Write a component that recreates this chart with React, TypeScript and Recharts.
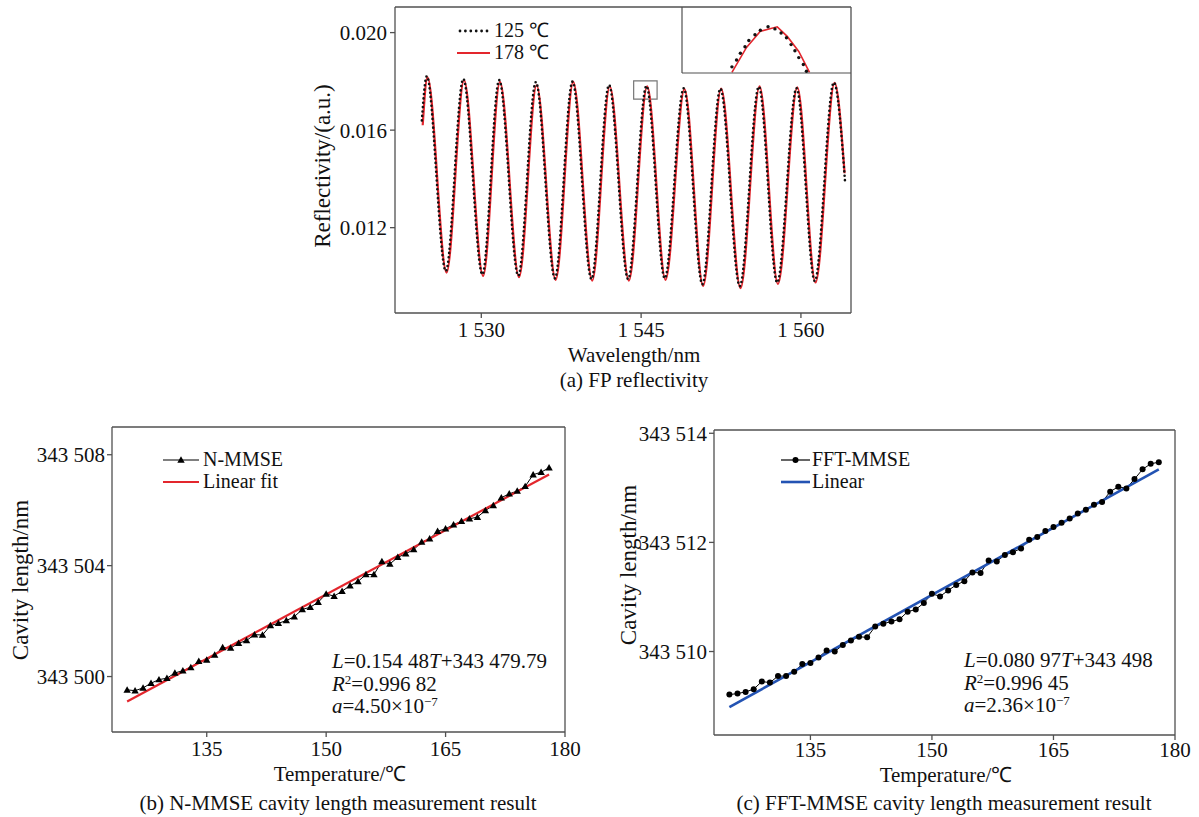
import React from 'react';
import { LineChart, Line, XAxis, YAxis, ReferenceArea } from 'recharts';

const FONT = "'Liberation Serif', 'Times New Roman', serif";
const AXIS = '#505050';
const RED = '#e3262d';
const BLUE = '#2353b3';
const INK = '#111';

// ---------- (a) FP reflectivity ----------
const wl178 = [1524.5, 1524.95, 1526.74, 1528.38, 1530.17, 1531.75, 1533.54, 1535.19, 1536.98, 1538.63, 1540.41, 1542.06, 1543.85, 1545.57, 1547.29, 1549.07, 1550.82, 1552.51, 1554.33, 1556.12, 1557.84, 1559.66, 1561.37, 1563.16, 1564.1];
const refl178 = [0.0162, 0.01816, 0.01016, 0.01805, 0.01002, 0.01798, 0.00997, 0.01784, 0.00986, 0.01798, 0.00983, 0.0178, 0.00983, 0.0178, 0.00986, 0.01768, 0.00961, 0.0177, 0.00952, 0.0178, 0.00969, 0.01775, 0.00975, 0.01794, 0.01423];
const wl125 = [1524.42, 1524.88, 1526.67, 1528.31, 1530.1, 1531.68, 1533.47, 1535.12, 1536.91, 1538.56, 1540.34, 1541.99, 1543.78, 1545.5, 1547.22, 1549.0, 1550.75, 1552.44, 1554.26, 1556.05, 1557.77, 1559.59, 1561.3, 1563.09, 1564.15];
const refl125 = [0.0164, 0.01821, 0.01022, 0.0181, 0.01008, 0.01805, 0.01003, 0.01797, 0.00992, 0.01799, 0.00989, 0.01785, 0.00989, 0.01781, 0.00992, 0.01772, 0.00968, 0.0177, 0.0096, 0.01778, 0.00975, 0.01772, 0.00981, 0.01795, 0.01383];
const wlTicks = [1530, 1545, 1560];
const reflTicks = [0.012, 0.016, 0.02];
const wlDomain = [1521.9, 1564.7];
const reflDomain = [0.0085, 0.02105];
const zoomWl = [1544.3, 1546.5];
const zoomRefl = [0.01727, 0.01802];

// inset (zoom of the boxed peak)
const insetWl178 = [1544.95, 1545.14, 1545.32, 1545.54, 1545.67, 1545.82, 1545.96];
const insetRefl178 = [0.017278, 0.017561, 0.017744, 0.017795, 0.017686, 0.017515, 0.017278];
const insetWl125 = [1544.95, 1545.01, 1545.06, 1545.12, 1545.17, 1545.25, 1545.32, 1545.42, 1545.51, 1545.59, 1545.66, 1545.72, 1545.77, 1545.82, 1545.88, 1545.92];
const insetRefl125 = [0.01734, 0.017418, 0.017495, 0.017569, 0.017639, 0.017705, 0.017756, 0.017795, 0.017771, 0.017725, 0.01767, 0.017593, 0.017523, 0.017445, 0.017367, 0.01729];
const insetXTicks = [1544.41, 1544.52, 1544.63, 1544.74, 1544.85, 1544.96, 1545.07, 1545.18, 1545.29, 1545.4, 1545.51, 1545.62, 1545.73, 1545.84, 1545.95, 1546.06, 1546.17, 1546.28, 1546.39];
const insetYTicks = [0.017453, 0.017639, 0.017826];

// ---------- (b) N-MMSE ----------
const temps = [125, 126, 127, 128, 129, 130, 131, 132, 133, 134, 135, 136, 137, 138, 139, 140, 141, 142, 143, 144, 145, 146, 147, 148, 149, 150, 151, 152, 153, 154, 155, 156, 157, 158, 159, 160, 161, 162, 163, 164, 165, 166, 167, 168, 169, 170, 171, 172, 173, 174, 175, 176, 177, 178];
const nmmse = [343499.52, 343499.49, 343499.59, 343499.76, 343499.89, 343499.94, 343500.13, 343500.21, 343500.33, 343500.55, 343500.6, 343500.78, 343501.05, 343501.03, 343501.2, 343501.3, 343501.51, 343501.5, 343501.84, 343501.92, 343502.02, 343502.16, 343502.42, 343502.5, 343502.68, 343502.98, 343502.9, 343503.08, 343503.28, 343503.43, 343503.68, 343503.68, 343504.15, 343504.06, 343504.3, 343504.43, 343504.58, 343504.85, 343504.97, 343505.24, 343505.33, 343505.48, 343505.6, 343505.69, 343505.75, 343505.99, 343506.17, 343506.45, 343506.59, 343506.69, 343506.86, 343507.28, 343507.37, 343507.53];
const nmmseFitT = [125, 178];
const nmmseFitL = [343499.1, 343507.29];
const tempTicks = [135, 150, 165, 180];
const tempDomain = [123.1, 180];
const nmmseTicks = [343500, 343504, 343508];
const nmmseDomain = [343498, 343509];

// ---------- (c) FFT-MMSE ----------
const fftmmse = [343509.21, 343509.23, 343509.26, 343509.31, 343509.45, 343509.43, 343509.55, 343509.55, 343509.63, 343509.77, 343509.79, 343509.89, 343510.02, 343510.0, 343510.12, 343510.2, 343510.27, 343510.26, 343510.46, 343510.51, 343510.55, 343510.59, 343510.73, 343510.77, 343510.89, 343511.06, 343511.01, 343511.12, 343511.22, 343511.29, 343511.45, 343511.44, 343511.67, 343511.65, 343511.77, 343511.82, 343511.89, 343512.05, 343512.1, 343512.21, 343512.28, 343512.36, 343512.44, 343512.53, 343512.6, 343512.69, 343512.74, 343512.93, 343513.02, 343512.99, 343513.16, 343513.34, 343513.44, 343513.47];
const fftFitT = [125, 178];
const fftFitL = [343508.98, 343513.34];
const fftTicks = [343510, 343512, 343514];
const fftDomain = [343508.47, 343514.06];

const zip = (xs: number[], ys: number[]) => xs.map((x, i) => ({ x, y: ys[i] }));
const d178 = zip(wl178, refl178);
const d125 = zip(wl125, refl125);
const inset178 = zip(insetWl178, insetRefl178);
const inset125 = zip(insetWl125, insetRefl125);
const dN = zip(temps, nmmse);
const dNfit = zip(nmmseFitT, nmmseFitL);
const dF = zip(temps, fftmmse);
const dFfit = zip(fftFitT, fftFitL);

const spaced3 = (v: number) => { const s = String(Math.round(v)); return s.slice(0, 3) + ' ' + s.slice(3); };
const spaced1 = (v: number) => { const s = String(Math.round(v)); return s.slice(0, 1) + ' ' + s.slice(1); };

const tickStyle = { fill: INK, fontSize: 21, fontFamily: FONT };

const Triangle = (props: any) => {
  const { cx, cy, index } = props;
  if (cx == null || cy == null) return <g key={`t${index}`} />;
  const s = 3.7;
  return <path key={`t${index}`} d={`M${cx},${cy - s} L${cx + s},${cy + s * 0.75} L${cx - s},${cy + s * 0.75} Z`} fill="#000" />;
};
const Dot = (props: any) => {
  const { cx, cy, index } = props;
  if (cx == null || cy == null) return <g key={`c${index}`} />;
  return <circle key={`c${index}`} cx={cx} cy={cy} r={3} fill="#000" />;
};

type TP = { x: number; y: number; children: React.ReactNode; anchor?: 'start' | 'middle'; size?: number; rotate?: boolean };
const T = ({ x, y, children, anchor = 'start', size = 21, rotate }: TP) => (
  <div
    style={{
      position: 'absolute', left: x, top: y, fontSize: size, lineHeight: 0.88, whiteSpace: 'nowrap', fontFamily: FONT, color: INK,
      transform: rotate ? 'translate(-50%,-50%) rotate(-90deg)' : anchor === 'middle' ? 'translate(-50%,-50%)' : 'translateY(-50%)',
    }}
  >
    {children}
  </div>
);

const noteStyle: React.CSSProperties = { position: 'absolute', fontSize: 21, lineHeight: '22.5px', fontFamily: FONT, color: INK, whiteSpace: 'nowrap' };
const supStyle: React.CSSProperties = { fontSize: 13, verticalAlign: 'top', lineHeight: '13px' };

export default function App() {
  return (
    <div style={{ position: 'absolute', left: 0, top: 0, width: 1199, height: 817, background: '#fff', overflow: 'hidden', fontFamily: FONT }}>
      {/* (a) */}
      <div style={{ position: 'absolute', left: 300, top: 0 }}>
        <LineChart width={570} height={360} margin={{ top: 6, right: 18, bottom: 20, left: 0 }}>
          <XAxis type="number" dataKey="x" domain={wlDomain} allowDataOverflow ticks={wlTicks} tickFormatter={spaced1} height={27} stroke={AXIS} strokeWidth={1.3} tickSize={5} tickMargin={4} tick={tickStyle} />
          <XAxis xAxisId="top" orientation="top" type="number" dataKey="x" domain={wlDomain} allowDataOverflow height={1} tick={false} tickLine={false} stroke={AXIS} strokeWidth={1.3} />
          <YAxis type="number" domain={reflDomain} allowDataOverflow ticks={reflTicks} tickFormatter={(v: number) => v.toFixed(3)} width={95} stroke={AXIS} strokeWidth={1.3} tickSize={5} tickMargin={3} tick={tickStyle} />
          <YAxis yAxisId="right" orientation="right" type="number" domain={reflDomain} allowDataOverflow width={1} tick={false} tickLine={false} stroke={AXIS} strokeWidth={1.3} />
          <ReferenceArea x1={zoomWl[0]} x2={zoomWl[1]} y1={zoomRefl[0]} y2={zoomRefl[1]} stroke="#777" strokeWidth={1.2} fill="none" fillOpacity={0} />
          <Line data={d178} dataKey="y" type="monotoneX" stroke={RED} strokeWidth={2.2} dot={false} isAnimationActive={false} />
          <Line data={d125} dataKey="y" type="monotoneX" stroke={INK} strokeWidth={2.6} strokeDasharray="0 4.4" strokeLinecap="round" dot={false} isAnimationActive={false} />
        </LineChart>
      </div>
      {/* inset */}
      <div style={{ position: 'absolute', left: 681, top: 6, width: 170, height: 69 }}>
        <LineChart width={170} height={69} margin={{ top: 1, right: 0, bottom: 2, left: 1 }}>
          <XAxis type="number" dataKey="x" domain={zoomWl} allowDataOverflow ticks={insetXTicks} height={1} mirror tick={false} tickSize={3} stroke={AXIS} strokeWidth={1.2} />
          <YAxis type="number" domain={zoomRefl} allowDataOverflow ticks={insetYTicks} width={1} mirror tick={false} tickSize={3} stroke={AXIS} strokeWidth={1.2} />
          <Line data={inset178} dataKey="y" type="linear" stroke={RED} strokeWidth={1.6} dot={false} isAnimationActive={false} />
          <Line data={inset125} dataKey="y" type="linear" stroke="none" dot={{ r: 1.7, fill: INK, stroke: 'none' }} isAnimationActive={false} />
        </LineChart>
      </div>
      {/* (a) legend & labels */}
      <svg style={{ position: 'absolute', left: 457, top: 28 }} width={34} height={6}>
        <line x1={3} y1={3} x2={31} y2={3} stroke={INK} strokeWidth={2.8} strokeDasharray="0 5.4" strokeLinecap="round" />
      </svg>
      <T x={494} y={31} size={20}>125 ℃</T>
      <svg style={{ position: 'absolute', left: 457, top: 50 }} width={34} height={6}>
        <line x1={0} y1={3} x2={33} y2={3} stroke={RED} strokeWidth={2.2} />
      </svg>
      <T x={494} y={53} size={20}>178 ℃</T>
      <T x={323} y={166} rotate size={23}>Reflectivity/(a.u.)</T>
      <T x={634} y={355} anchor="middle">Wavelength/nm</T>
      <T x={634} y={380} anchor="middle">(a) FP reflectivity</T>

      {/* (b) */}
      <div style={{ position: 'absolute', left: 0, top: 420 }}>
        <LineChart width={600} height={360} margin={{ top: 6, right: 34, bottom: 20, left: 0 }}>
          <XAxis type="number" dataKey="x" domain={tempDomain} allowDataOverflow ticks={tempTicks} height={28} stroke={AXIS} strokeWidth={1.3} tickSize={5} tickMargin={4} tick={tickStyle} />
          <XAxis xAxisId="top" orientation="top" type="number" dataKey="x" domain={tempDomain} allowDataOverflow height={1} tick={false} tickLine={false} stroke={AXIS} strokeWidth={1.3} />
          <YAxis type="number" domain={nmmseDomain} allowDataOverflow ticks={nmmseTicks} tickFormatter={spaced3} width={112} stroke={AXIS} strokeWidth={1.3} tickSize={5} tickMargin={2} tick={tickStyle} />
          <YAxis yAxisId="right" orientation="right" type="number" domain={nmmseDomain} allowDataOverflow width={1} tick={false} tickLine={false} stroke={AXIS} strokeWidth={1.3} />
          <Line data={dN} dataKey="y" type="linear" stroke="#000" strokeWidth={1} dot={<Triangle />} isAnimationActive={false} />
          <Line data={dNfit} dataKey="y" type="linear" stroke={RED} strokeWidth={2.2} dot={false} isAnimationActive={false} />
        </LineChart>
      </div>
      <svg style={{ position: 'absolute', left: 163, top: 454 }} width={38} height={12}>
        <line x1={0} y1={6} x2={36} y2={6} stroke="#000" strokeWidth={1.2} />
        <path d="M18,2.3 L21.7,8.8 L14.3,8.8 Z" fill="#000" />
      </svg>
      <T x={203} y={460} size={20}>N-MMSE</T>
      <svg style={{ position: 'absolute', left: 163, top: 479 }} width={38} height={6}>
        <line x1={0} y1={3} x2={36} y2={3} stroke={RED} strokeWidth={2.2} />
      </svg>
      <T x={203} y={482} size={20}>Linear fit</T>
      <div style={{ ...noteStyle, left: 332, top: 650 }}>
        <div><i>L</i>=0.154 48<i>T</i>+343 479.79</div>
        <div><i>R</i><sup style={supStyle}>2</sup>=0.996 82</div>
        <div><i>a</i>=4.50×10<sup style={supStyle}>−7</sup></div>
      </div>
      <T x={21} y={580} rotate size={23}>Cavity length/nm</T>
      <T x={340} y={774} anchor="middle">Temperature/℃</T>
      <T x={338} y={803} anchor="middle">(b) N-MMSE cavity length measurement result</T>

      {/* (c) */}
      <div style={{ position: 'absolute', left: 600, top: 420 }}>
        <LineChart width={599} height={360} margin={{ top: 9, right: 23, bottom: 20, left: 0 }}>
          <XAxis type="number" dataKey="x" domain={tempDomain} allowDataOverflow ticks={tempTicks} height={25} stroke={AXIS} strokeWidth={1.3} tickSize={5} tickMargin={2} tick={tickStyle} />
          <XAxis xAxisId="top" orientation="top" type="number" dataKey="x" domain={tempDomain} allowDataOverflow height={1} tick={false} tickLine={false} stroke={AXIS} strokeWidth={1.3} />
          <YAxis type="number" domain={fftDomain} allowDataOverflow ticks={fftTicks} tickFormatter={spaced3} width={114} stroke={AXIS} strokeWidth={1.3} tickSize={5} tickMargin={2} tick={tickStyle} />
          <YAxis yAxisId="right" orientation="right" type="number" domain={fftDomain} allowDataOverflow width={1} tick={false} tickLine={false} stroke={AXIS} strokeWidth={1.3} />
          <Line data={dF} dataKey="y" type="linear" stroke="#000" strokeWidth={1} dot={<Dot />} isAnimationActive={false} />
          <Line data={dFfit} dataKey="y" type="linear" stroke={BLUE} strokeWidth={2.6} dot={false} isAnimationActive={false} />
        </LineChart>
      </div>
      <svg style={{ position: 'absolute', left: 781, top: 454 }} width={32} height={12}>
        <line x1={0} y1={6} x2={29} y2={6} stroke="#000" strokeWidth={1.2} />
        <circle cx={14.5} cy={6} r={3} fill="#000" />
      </svg>
      <T x={812} y={460} size={20}>FFT-MMSE</T>
      <svg style={{ position: 'absolute', left: 781, top: 479 }} width={32} height={6}>
        <line x1={0} y1={3} x2={29} y2={3} stroke={BLUE} strokeWidth={2.6} />
      </svg>
      <T x={812} y={482} size={20}>Linear</T>
      <div style={{ ...noteStyle, left: 964, top: 649 }}>
        <div><i>L</i>=0.080 97<i>T</i>+343 498</div>
        <div><i>R</i><sup style={supStyle}>2</sup>=0.996 45</div>
        <div><i>a</i>=2.36×10<sup style={supStyle}>−7</sup></div>
      </div>
      <T x={629} y={565} rotate size={23}>Cavity length/nm</T>
      <T x={946} y={775} anchor="middle">Temperature/℃</T>
      <T x={944} y={803} anchor="middle">(c) FFT-MMSE cavity length measurement result</T>
    </div>
  );
}
